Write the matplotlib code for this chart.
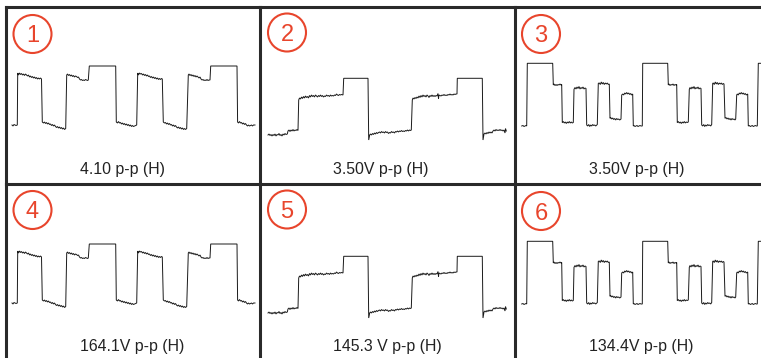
import matplotlib
matplotlib.use("Agg")
import matplotlib.pyplot as plt
from matplotlib.patches import Ellipse

plt.rcParams['font.family'] = ['Liberation Sans', 'DejaVu Sans']

# waveform A (panels 1 and 4): time (px units from panel edge) and level (arb. units)
wave_a_t = [6, 7, 8, 9, 10, 11.3, 11.7,
            12.5, 13.5, 14.5, 15.5, 16.5, 17.5, 18.5, 19.5, 20.5, 21.5, 22.5, 23.5, 24.5, 25.5, 26.5, 27.5,
            28.5, 29.5, 30.5, 31.5, 32.5, 33.5, 34.5, 35.5, 36.3,
            37.5, 38.5, 39.5, 40.5, 41.5, 42.5, 43.5, 44.5, 45.5, 46.5, 47.5, 48.5, 49.5, 50.5, 51.5,
            52.5, 53.5, 54.5, 55.5, 56.5, 57.5, 58.5, 59.7, 60.7,
            61.5, 62.5, 63.5, 64.5, 65.5, 66.5, 67.5, 68.5, 69.5, 70.5, 71.5, 72.5, 73.5, 74.5, 75.5,
            76.5, 77.5, 78.5, 79.5, 80.5, 81.5, 82.3, 83.3, 109.7, 110.3,
            111.5, 112.5, 113.5, 114.5, 115.5, 116.5, 117.5, 118.5, 119.5, 120.5, 121.5, 122.5, 123.5,
            124.5, 125.5, 126.5, 127.5, 128.5, 129.5, 130.7, 131.7,
            132.5, 133.5, 134.5, 135.5, 136.5, 137.5, 138.5, 139.5, 140.5, 141.5, 142.5, 143.5, 144.5,
            145.5, 146.5, 147.5, 148.5, 149.5, 150.5, 151.5, 152.5, 153.5, 154.5, 155.5, 156.3, 157.3,
            158.5, 159.5, 160.5, 161.5, 162.5, 163.5, 164.5, 165.5, 166.5, 167.5, 168.5, 169.5, 170.5,
            171.5, 172.5, 173.5, 174.5, 175.5, 176.5, 177.5, 178.5, 179.5, 180.7, 182.3,
            183, 184, 185, 186, 187, 188, 189, 190, 191, 192, 193, 194, 195, 196, 197, 198, 199, 200,
            201, 202, 203, 204, 204.7, 231, 231.6,
            232.5, 233.5, 234.5, 235.5, 236.5, 237.5, 238.5, 239.5, 240.5, 241.5, 242.5, 243.5, 244.5,
            245.5, 246.5, 247.5, 249]
wave_a_v = [0, -1, 0.5, 0, -0.5, 0, 52,
            50, 52, 50.5, 51.5, 50, 51, 49.5, 51, 50, 49, 50, 48, 49, 47.5, 48.5, 47,
            48, 46.5, 47.5, 46, 47, 46, 47, 46, 3,
            2, 3, 1.5, 2.5, 1, 2, 0.5, 1, -0.5, 0.5, -1, 0, -1.5, -2.5, -1.5,
            -3, -2, -3.5, -2.5, -4, -3, -4.5, -3.5, 50,
            51, 49.5, 50.5, 49, 50, 48.5, 49.5, 48, 49, 48.5, 47.5, 48, 46, 45, 45.5,
            44.5, 45, 44.5, 45.5, 45, 44.5, 45, 59, 59, 3,
            2, 3.5, 2, 2.5, 1, 2, 0.5, 1.5, 0, 1, -0.5, 0.5, -1,
            0, -1.5, -0.5, -1.5, -1, -0.5, 0, 52,
            50, 52, 51, 51.5, 50, 51, 49.5, 50.5, 49, 50, 48.5, 49, 47.5,
            48.5, 47, 48, 46.5, 47.5, 46, 47, 45.5, 46.5, 45.5, 46.5, 46, 3,
            2, 2.5, 1, 2, 0.5, 1.5, 0, 0.5, -1, 0, -1.5, -0.5, -2,
            -3, -2, -3.5, -2.5, -4, -3, -4.5, -3.5, -4.5, -3.5, 50,
            51, 49.5, 50.5, 49, 50, 48.5, 49.5, 48, 49, 48, 47, 48, 46, 45, 45.5, 44.5, 45, 44.5,
            45.5, 44.5, 45, 45, 59, 59, 3,
            2, 3.5, 2, 2.5, 1, 2, 0.5, 1.5, 0, -1, 0, -1, -0.5,
            0, -1, 0, 0]

# waveform B (panels 2 and 5)
wave_b_t = [8.5, 9.5, 10.5, 11.5, 12.5, 13.5, 14.5, 15.5, 16.5, 17.5, 18.5, 19.5, 20.5, 21.5, 22.5,
            23.5, 24.5, 25.5, 26.5, 27.8,
            28.5, 29.5, 30.5, 31.5, 32.5, 33.5, 34.5, 35.5, 36.5, 37.5, 38.5, 39.2,
            40, 41, 42, 43, 44, 45, 46, 47, 48, 49, 50, 51, 52, 53, 54, 55, 56, 57, 58, 59, 60, 61, 62,
            63, 64, 65, 66, 67, 68, 69, 70, 71, 72, 73, 74, 75, 76, 77, 78, 79, 80, 81, 82, 83.5,
            84.2, 108.5, 109.2, 110.2,
            111, 112, 113, 114, 115, 116, 117, 118, 119, 120, 121, 122, 123, 124, 125, 126, 127, 128,
            129, 130, 131, 132, 133, 134, 135, 136, 137, 138, 139, 140, 141, 142, 143, 144, 145, 146,
            147, 148, 149, 150, 151, 151.8, 152.8,
            153.5, 154.5, 155.5, 156.5, 157.5, 158.5, 159.5, 160.5, 161.5, 162.5, 163.5, 164.5, 165.5,
            166.5, 167.5, 168.5, 169.5, 170.5, 171.5, 172.5, 173.5, 174.5, 175.5, 176.5, 177.5, 178.5,
            179, 179.5, 180.5, 181.5, 182.5, 183.5, 184.5, 185.5, 186.5, 187.5, 188.5, 189.5, 190.5,
            191.5, 192.5, 193.5, 194.5, 195.5, 196.5, 197.5,
            197.8, 222.8, 223.5, 224.5,
            225.5, 226.5, 227.5, 228.5, 229.5, 230.5, 231.5, 232.5, 233.5, 234.5, 235.5, 236.5, 237.5,
            238.5, 239.5, 240.5, 241.5, 242.5, 243.5, 244.5, 245.5, 246, 246.8]
wave_b_v = [1, 2, 0.5, 1.5, 0, 1.5, 0.5, 2, 0, 1.5, 1, 2.5, 0.5, 1.5, 0,
            2, 1, 2.5, 1.5, 2,
            5, 6, 4.5, 6, 5, 6.5, 5, 6, 5.5, 6.5, 5.5, 36,
            38, 37, 39, 37.5, 39.5, 38, 40, 38.5, 39.5, 38, 40.5, 39, 41, 39.5, 40.5, 39, 41, 40, 39,
            40.5, 39.5, 41, 39.5,
            40.5, 39, 40, 39.5, 41, 40, 40.5, 39.5, 41, 40, 40.5, 40, 41, 40.5, 42, 41, 40.5, 41.5, 41,
            41.5, 41,
            57.7, 57.7, -4, 1,
            2, 1, 2.5, 1.5, 3, 2, 3.5, 2.5, 3.5, 4, 3, 4.5, 3.5, 4, 3, 4.5, 3.5, 4,
            2.5, 3.5, 3, 4.5, 3.5, 4, 3, 4.5, 4, 5, 4, 5, 4.5, 5.5, 4.5, 5, 4.5, 5.5,
            5, 6, 5, 6, 5.5, 6, 36,
            38, 37, 38.5, 37.5, 39, 38, 40, 38.5, 40.5, 39, 41, 39.5, 40.5,
            39, 41, 40, 38.5, 40.5, 39.5, 41, 39.5, 40.5, 39.5, 40.5, 40, 42.5,
            37.5, 41, 40.5, 40, 41, 40.5, 41.5, 40.5, 41, 40.5, 41.5, 41, 42,
            41, 41.5, 41, 42, 41.5, 42, 42,
            57.7, 57.7, -4, 2,
            3, 2, 3.5, 2.5, 4, 3, 4, 3, 5, 6, 5, 6.5, 5.5,
            6, 5.5, 6.5, 5.5, 6, 5, 6, 3, 7.5, 5]

# waveform C (panels 3 and 6)
wave_c_t = [7.2, 8.5, 9.5, 10.5, 11.5, 12.2, 12.8, 38.2,
            38.8, 39.5, 40.5, 41.5, 42.5, 43.5, 44.5, 45.5, 46.5, 47.2,
            47.8, 48.8, 49.8, 50.8, 51.8, 52.8, 53.8, 54.8, 55.8, 56.8, 57.8, 58.8,
            59.5, 60.5, 61.5, 62.5, 63.5, 64.5, 65.5, 66.5, 67.5, 68.5, 69.5, 70.5, 71.5,
            72.2, 73.2, 74.2, 75.2, 76.2, 77.2, 78.2, 79.2, 80.2, 81.2, 82.8,
            83.8, 84.8, 85.8, 86.8, 87.8, 88.8, 89.8, 90.8, 91.8, 92.8, 93.8, 94.8,
            95.5, 96.2, 97.2, 98.2, 99.2, 100.2, 101.2, 102.2, 103.2, 104.2, 105.2, 106.5,
            107.2, 108.2, 109.2, 110.2, 111.2, 112.2, 113.2, 114.2, 115.2, 116.2, 117.2, 118.2,
            118.8, 119.5, 120.5, 121.5, 122.5, 123.5, 124.5, 125.5, 126.5, 127.8,
            128.2, 153.2,
            153.8, 154.5, 155.5, 156.5, 157.5, 158.5, 159.5, 160.5, 161.5, 162.2,
            162.8, 163.8, 164.8, 165.8, 166.8, 167.8, 168.8, 169.8, 170.8, 171.8, 172.8, 173.8,
            174.8, 175.5, 176.5, 177.5, 178.5, 179.5, 180.5, 181.5, 182.5, 183.5, 184.5, 185.5, 186.5,
            187.2, 188.2, 189.2, 190.2, 191.2, 192.2, 193.2, 194.2, 195.2, 196.2, 197.2,
            198.2, 198.8, 199.8, 200.8, 201.8, 202.8, 203.8, 204.8, 205.8, 206.8, 207.8, 208.8, 209.5,
            210.5, 211.5, 212.5, 213.5, 214.5, 215.5, 216.5, 217.5, 218.5, 219.5, 220.5, 221.2,
            222.2, 222.8, 223.8, 224.8, 225.8, 226.8, 227.8, 228.8, 229.8, 230.8, 231.8, 233.2,
            233.8, 234.8, 235.8, 236.8, 237.8, 238.8, 239.8, 240.8, 241.8, 242.8,
            243.8, 247]
wave_c_v = [0, 0.5, -0.5, 0, 0.5, 0, 62.7, 62.7,
            41, 42, 40.5, 41.5, 40.5, 41.5, 41, 42, 41, 41.5,
            3.3, 4.5, 3, 4, 2.5, 4, 3, 4.5, 3, 4, 3, 3.5,
            36.7, 38.5, 37, 39, 37.5, 39.5, 37, 38.5, 37.5, 39, 37, 38, 37.5,
            1, 0, 1.5, -0.5, 1, 0, 1.5, 0.5, 1, 0, 1.5,
            42.7, 43, 41.5, 44, 42, 43.5, 41.5, 43, 42, 43, 41.5, 42,
            7.7, 8.5, 7, 8, 6.5, 7.5, 6, 7.5, 6.5, 7, 6, 7,
            31, 32, 31, 33, 32, 33.5, 32, 33, 31.5, 32.5, 31, 32,
            0, 0.5, -0.5, 0, 0.5, -0.5, 0, 0.5, 0, 0,
            62.7, 62.7,
            41, 42, 40.5, 41.5, 41, 42, 40.5, 41.5, 41, 41.5,
            3.3, 4.5, 3, 4, 2.5, 4, 3, 4.5, 3, 4, 3.5, 4,
            36.7, 38.5, 37, 39, 37.5, 39.5, 37, 38.5, 37.5, 39, 37, 38, 37.5,
            1, 0, 1.5, -0.5, 1, 0, 1.5, 0.5, 1, 0, 1.5,
            42.7, 43, 41.5, 44, 42, 43.5, 41.5, 43, 42, 43, 41.5, 42.5, 42,
            7.7, 8.5, 7, 8, 6.5, 7.5, 6, 7.5, 6.5, 7, 6, 7,
            31, 32, 31, 33, 32, 33.5, 32, 33, 31.5, 32.5, 31, 32,
            0, 0.5, -0.5, 0, 0.5, -0.5, 0, 0.5, 0, 0,
            62.7, 62.7]

panel_numbers = ['1', '2', '3', '4', '5', '6']
panel_labels = ['4.10 p-p (H)', '3.50V p-p (H)', '3.50V p-p (H)',
                '164.1V p-p (H)', '145.3 V p-p (H)', '134.4V p-p (H)']
panel_waves = [(wave_a_t, wave_a_v), (wave_b_t, wave_b_v), (wave_c_t, wave_c_v),
               (wave_a_t, wave_a_v), (wave_b_t, wave_b_v), (wave_c_t, wave_c_v)]

W, H = 761, 358
col_edges = [6, 259.5, 514.5, 761]
row_edges = [7, 183.5, 358]
zero_rows = [125, 136, 126, 303, 314, 304]       # pixel row of level 0 in each panel
label_x = [122, 380.5, 636.5, 132, 387.5, 641.5]
circle_x = [32.5, 287, 541, 32.5, 287, 541]
circle_y = [34, 32.5, 34, 210, 209.5, 211]
red = '#e8452c'
border = '#2a2a2a'

fig = plt.figure(figsize=(W / 100, H / 100), dpi=100)

for i in range(6):
    r, c = divmod(i, 3)
    x0, x1 = col_edges[c], col_edges[c + 1]
    y0, y1 = row_edges[r], row_edges[r + 1]
    ax = fig.add_axes([x0 / W, 1 - y1 / H, (x1 - x0) / W, (y1 - y0) / H])
    t, v = panel_waves[i]
    ax.plot(t, v, color='#1a1a1a', lw=0.7, solid_joinstyle='miter')
    ax.set_xlim(0, x1 - x0)
    z = zero_rows[i]
    ax.set_ylim(-(y1 - z), z - y0)
    ax.set_xticks([])
    ax.set_yticks([])
    for s in ['right', 'bottom']:
        ax.spines[s].set_visible(False)
    for s in ['left', 'top']:
        ax.spines[s].set_linewidth(2.2)
        ax.spines[s].set_color(border)
        ax.spines[s].set_capstyle('projecting')
    ax.patch.set_alpha(0)

    fig.text(label_x[i] / W, 1 - (row_edges[r] + 167) / H, panel_labels[i],
             ha='center', va='baseline', fontsize=11.4, color='#222222')
    cx, cy = circle_x[i] / W, 1 - circle_y[i] / H
    fig.add_artist(Ellipse((cx, cy), 38 / W, 38 / H, transform=fig.transFigure,
                           fill=False, edgecolor=red, lw=1.5))
    fig.text(cx, cy, panel_numbers[i], ha='center', va='center_baseline',
             fontsize=17, color=red)

fig.savefig('out.png', dpi=100)
